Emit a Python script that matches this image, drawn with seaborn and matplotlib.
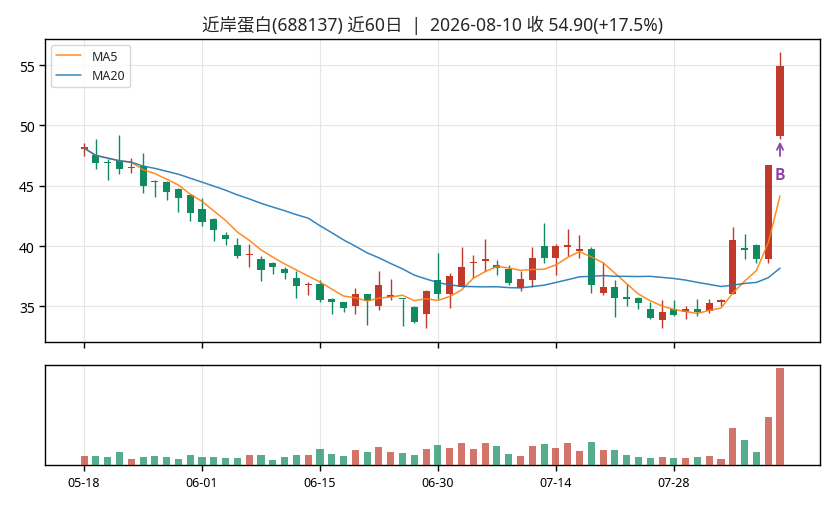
import numpy as np
import pandas as pd
import matplotlib
matplotlib.use('Agg')
import matplotlib.pyplot as plt
import seaborn as sns

#------------------------------------------------------------------------------------------

name = '近岸蛋白'
code = '688137'

dates = [
    '05-18', '05-19', '05-20', '05-21', '05-22', '05-25', '05-26', '05-27', '05-28', '05-29',
    '06-01', '06-02', '06-03', '06-04', '06-05', '06-08', '06-09', '06-10', '06-11', '06-12',
    '06-15', '06-16', '06-17', '06-18', '06-22', '06-23', '06-24', '06-25', '06-26', '06-29',
    '06-30', '07-01', '07-02', '07-03', '07-06', '07-07', '07-08', '07-09', '07-10', '07-13',
    '07-14', '07-15', '07-16', '07-17', '07-20', '07-21', '07-22', '07-23', '07-24', '07-27',
    '07-28', '07-29', '07-30', '07-31', '08-03', '08-04', '08-05', '08-06', '08-07', '08-10',
]

opens = [
    48.05, 47.55, 46.90, 47.05, 46.45, 46.65, 45.35, 45.35, 44.75, 44.25,
    43.05, 42.25, 40.95, 40.10, 39.25, 38.95, 38.60, 38.10, 37.35, 36.75,
    36.85, 35.65, 35.35, 35.05, 36.00, 35.00, 35.80, 35.60, 34.95, 34.40,
    37.20, 36.05, 36.65, 38.60, 38.80, 38.45, 38.10, 36.50, 37.20, 40.00,
    39.05, 39.95, 39.60, 39.75, 36.15, 36.65, 35.70, 35.70, 34.80, 33.90,
    34.75, 34.55, 34.80, 34.65, 35.40, 36.05, 39.75, 40.10, 38.90, 49.10,
]
highs = [
    48.55, 48.85, 47.20, 49.20, 47.30, 47.75, 45.45, 45.40, 44.80, 44.30,
    43.95, 42.30, 41.20, 40.65, 40.15, 39.20, 38.70, 38.30, 37.95, 37.00,
    37.20, 35.70, 35.40, 36.50, 36.05, 37.95, 37.30, 35.65, 35.05, 36.40,
    39.40, 37.80, 39.95, 39.30, 40.55, 38.85, 38.40, 37.95, 39.90, 41.95,
    40.15, 41.45, 40.90, 39.90, 38.65, 37.20, 36.85, 35.80, 35.35, 35.55,
    35.55, 35.00, 35.60, 35.65, 35.65, 41.55, 41.00, 40.15, 46.75, 56.05,
]
lows = [
    47.50, 46.40, 45.50, 46.00, 46.05, 44.40, 44.05, 43.80, 42.80, 42.10,
    41.70, 40.40, 40.10, 39.00, 38.30, 37.10, 37.70, 37.25, 35.70, 35.95,
    35.35, 34.35, 34.55, 34.35, 33.50, 34.70, 35.50, 33.35, 33.60, 33.25,
    35.60, 34.85, 36.60, 37.35, 37.95, 37.60, 36.80, 36.30, 36.60, 38.60,
    37.60, 39.20, 39.00, 36.10, 35.95, 34.10, 35.05, 34.80, 33.95, 33.20,
    34.20, 33.95, 34.20, 34.45, 35.00, 36.00, 38.95, 38.60, 38.60, 48.90,
]
closes = [
    48.12, 46.90, 46.85, 46.40, 46.50, 45.00, 45.30, 44.50, 44.00, 42.70,
    42.00, 41.35, 40.55, 39.20, 39.30, 38.05, 38.30, 37.75, 36.70, 36.80,
    35.55, 35.40, 34.85, 36.00, 35.45, 36.75, 35.85, 35.58, 33.75, 36.25,
    36.05, 37.50, 38.25, 38.65, 38.95, 38.20, 36.90, 37.25, 39.00, 39.05,
    40.00, 40.00, 39.65, 36.80, 36.65, 35.70, 35.65, 35.30, 34.05, 34.50,
    34.25, 34.80, 34.50, 35.30, 35.45, 40.50, 39.70, 38.95, 46.73, 54.90,
]
# volume, relative units
volumes = [
    28, 28, 25, 40, 19, 25, 28, 25, 19, 31,
    25, 25, 22, 22, 31, 31, 16, 25, 31, 31,
    49, 34, 28, 46, 40, 55, 40, 37, 31, 49,
    61, 52, 67, 49, 67, 58, 34, 28, 58, 64,
    52, 67, 43, 70, 46, 46, 31, 25, 22, 25,
    22, 22, 25, 28, 19, 112, 76, 40, 145, 292,
]

#------------------------------------------------------------------------------------------

sns.set_theme(style='ticks')
plt.rcParams['font.family'] = ['Noto Sans', 'Noto Sans CJK SC', 'DejaVu Sans']
plt.rcParams['axes.unicode_minus'] = False

df = pd.DataFrame({'date': dates, 'open': opens, 'high': highs, 'low': lows,
                   'close': closes, 'volume': volumes})
df['x'] = np.arange(len(df))
df['MA5'] = df['close'].rolling(5, min_periods=1).mean()
df['MA20'] = df['close'].rolling(20, min_periods=1).mean()

up_color, down_color = '#c0392b', '#0f8b5f'
up = df['close'] >= df['open']
colors = np.where(up, up_color, down_color)

fig = plt.figure(figsize=(8.36, 5.06), dpi=100)
ax = fig.add_axes([0.054, 0.3221, 0.927, 0.5998])
axv = fig.add_axes([0.054, 0.0785, 0.927, 0.1988], sharex=ax)

# candles
ax.vlines(df['x'], df['low'], df['high'], colors=colors, lw=1, zorder=2)
body = np.maximum((df['close'] - df['open']).abs(), 0.12)
ax.bar(df['x'], body, bottom=np.minimum(df['open'], df['close']), width=0.6,
       color=colors, linewidth=0, zorder=3)

sns.lineplot(data=df, x='x', y='MA5', ax=ax, color='tab:orange', alpha=0.9, lw=1.1,
             label='MA5', zorder=4)
sns.lineplot(data=df, x='x', y='MA20', ax=ax, color='tab:blue', alpha=0.9, lw=1.1,
             label='MA20', zorder=4)

# buy signal on the last bar
last = df.iloc[-1]
ax.annotate('B', xy=(last['x'], last['low'] - 0.25), xytext=(last['x'], last['low'] - 2.95),
            ha='center', va='center', color='#8e44ad', fontsize=11, fontweight='bold',
            family=['Noto Sans CJK SC', 'DejaVu Sans'],
            arrowprops=dict(arrowstyle='->', color='#8e44ad', lw=1.3, shrinkA=5, shrinkB=0))

pct = (closes[-1] / closes[-2] - 1) * 100
ax.set_title(f'{name}({code}) 近{len(df)}日  |  2026-{dates[-1]} 收 {closes[-1]:.2f}({pct:+.1f}%)',
             fontsize=12.6)
ax.set_xlim(-3.3, 62.4)
ax.set_ylim(32.05, 57.2)
ax.set_yticks([35, 40, 45, 50, 55])
ax.set_xlabel('')
ax.set_ylabel('')
ax.legend(loc='upper left', fontsize=9, frameon=True)
ax.tick_params(axis='y', labelsize=10)
ax.tick_params(axis='x', labelbottom=False)
ax.grid(True, color='#e6e6e6', lw=0.8)

# volume
vol_colors = np.where(up, up_color, down_color)
axv.bar(df['x'], df['volume'], width=0.6, color=vol_colors, alpha=0.7, linewidth=0, zorder=3)
axv.set_ylim(0, max(volumes) * 1.035)
axv.set_yticks([])
ticks = list(range(0, len(df), 10))
axv.set_xticks(ticks)
axv.set_xticklabels([dates[i] for i in ticks], fontsize=9)
axv.grid(True, axis='x', color='#e6e6e6', lw=0.8)

for a in (ax, axv):
    for s in a.spines.values():
        s.set_color('black')
        s.set_linewidth(1)
    a.tick_params(colors='black', length=4, width=1)

fig.savefig('out.png', dpi=100)
